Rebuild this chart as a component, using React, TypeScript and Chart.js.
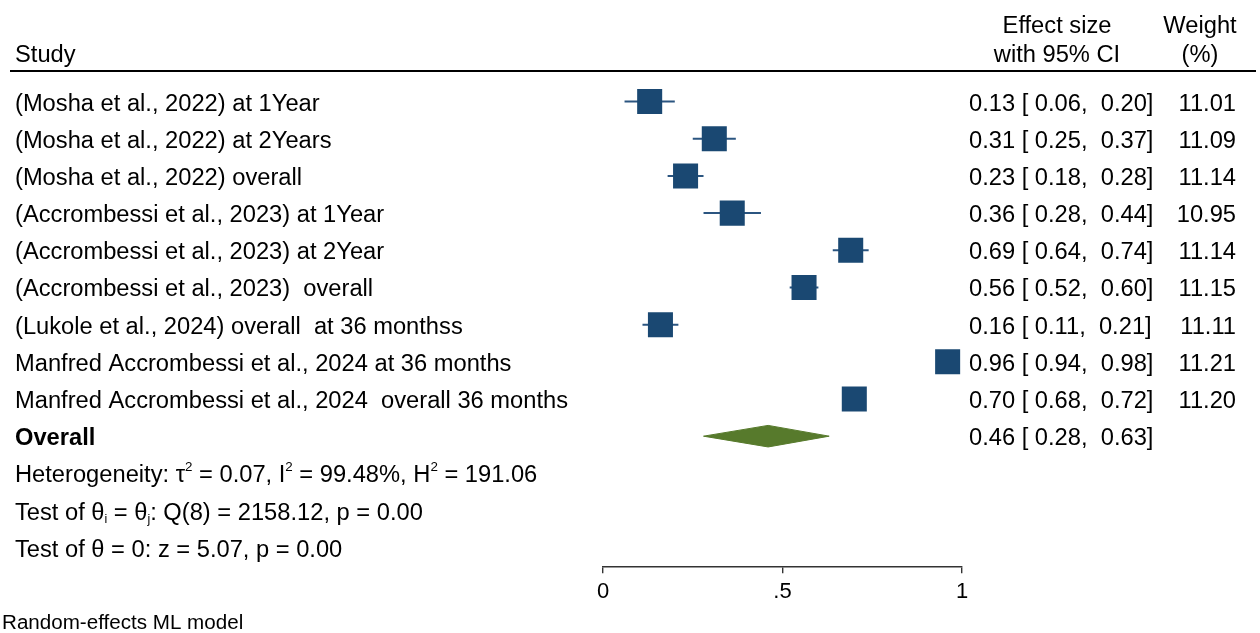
import React, { useEffect, useRef } from "react";
import { Chart, registerables } from "chart.js";

Chart.register(...registerables);

const studyLabels = [
  "(Mosha et al., 2022) at 1Year",
  "(Mosha et al., 2022) at 2Years",
  "(Mosha et al., 2022) overall",
  "(Accrombessi et al., 2023) at 1Year",
  "(Accrombessi et al., 2023) at 2Year",
  "(Accrombessi et al., 2023)  overall",
  "(Lukole et al., 2024) overall  at 36 monthss",
  "Manfred Accrombessi et al., 2024 at 36 months",
  "Manfred Accrombessi et al., 2024  overall 36 months",
];
const estimates = [0.13, 0.31, 0.23, 0.36, 0.69, 0.56, 0.16, 0.96, 0.7];
const lowerCI = [0.06, 0.25, 0.18, 0.28, 0.64, 0.52, 0.11, 0.94, 0.68];
const upperCI = [0.2, 0.37, 0.28, 0.44, 0.74, 0.6, 0.21, 0.98, 0.72];
const weights = [11.01, 11.09, 11.14, 10.95, 11.14, 11.15, 11.11, 11.21, 11.2];

const overallEstimate = 0.46;
const overallLower = 0.28;
const overallUpper = 0.63;

const xTicks = [0, 0.5, 1];
const xTickLabels = ["0", ".5", "1"];

const FONT = '"Liberation Sans", Arial, Helvetica, sans-serif';
const SIZE = 23;
const SX = 1.03;
const SQUARE = "#1a4872";
const WHISKER = "#2b5580";
const DIAMOND = "#577a2c";

function drawText(ctx: CanvasRenderingContext2D, text: string, x: number, y: number, size: number, align: string, bold = false) {
  ctx.save();
  ctx.font = `${bold ? "bold " : ""}${size}px ${FONT}`;
  const w = ctx.measureText(text).width * SX;
  let left = x;
  if (align === "right") left = x - w;
  else if (align === "center") left = x - w / 2;
  ctx.translate(left, y);
  ctx.scale(SX, 1);
  ctx.textAlign = "left";
  ctx.textBaseline = "alphabetic";
  ctx.fillStyle = "#000";
  ctx.fillText(text, 0, 0);
  ctx.restore();
  return w;
}

type Seg = { t: string; size: number; dy: number };
function drawRich(ctx: CanvasRenderingContext2D, segs: Seg[], x: number, y: number) {
  let cx = x;
  for (const s of segs) {
    cx += drawText(ctx, s.t, cx, y + s.dy, s.size, "left");
  }
}

const textPlugin = {
  id: "forestText",
  afterDraw(chart: any) {
    const ctx: CanvasRenderingContext2D = chart.ctx;
    const y = chart.scales.y;
    const off = 9;
    // header
    drawText(ctx, "Study", 15, 62, SIZE, "left");
    drawText(ctx, "Effect size", 1057, 33, SIZE, "center");
    drawText(ctx, "with 95% CI", 1057, 62, SIZE, "center");
    drawText(ctx, "Weight", 1200, 33, SIZE, "center");
    drawText(ctx, "(%)", 1200, 62, SIZE, "center");
    ctx.save();
    ctx.strokeStyle = "#000";
    ctx.lineWidth = 2;
    ctx.beginPath();
    ctx.moveTo(10, 71);
    ctx.lineTo(1256, 71);
    ctx.stroke();
    ctx.restore();

    studyLabels.forEach((lab, i) => {
      const py = y.getPixelForValue(i + 1) + off;
      drawText(ctx, lab, 15, py, SIZE, "left");
      const es = `${estimates[i].toFixed(2)} [ ${lowerCI[i].toFixed(2)},  ${upperCI[i].toFixed(2)}]`;
      drawText(ctx, es, 969, py, SIZE, "left");
      drawText(ctx, weights[i].toFixed(2), 1236, py, SIZE, "right");
    });
    const oy = y.getPixelForValue(10) + off;
    drawText(ctx, "Overall", 15, oy, SIZE, "left", true);
    drawText(
      ctx,
      `${overallEstimate.toFixed(2)} [ ${overallLower.toFixed(2)},  ${overallUpper.toFixed(2)}]`,
      969,
      oy,
      SIZE,
      "left"
    );
    const hy = y.getPixelForValue(11) + off;
    drawRich(
      ctx,
      [
        { t: "Heterogeneity: \u03c4", size: SIZE, dy: 0 },
        { t: "2", size: 13, dy: -11 },
        { t: " = 0.07, I", size: SIZE, dy: 0 },
        { t: "2", size: 13, dy: -11 },
        { t: " = 99.48%, H", size: SIZE, dy: 0 },
        { t: "2", size: 13, dy: -11 },
        { t: " = 191.06", size: SIZE, dy: 0 },
      ],
      15,
      hy
    );
    const ty = y.getPixelForValue(12) + off;
    drawRich(
      ctx,
      [
        { t: "Test of \u03b8", size: SIZE, dy: 0 },
        { t: "i", size: 12, dy: 3 },
        { t: " = \u03b8", size: SIZE, dy: 0 },
        { t: "j", size: 12, dy: 3 },
        { t: ": Q(8) = 2158.12, p = 0.00", size: SIZE, dy: 0 },
      ],
      15,
      ty
    );
    const zy = y.getPixelForValue(13) + off;
    drawText(ctx, "Test of \u03b8 = 0: z = 5.07, p = 0.00", 15, zy, SIZE, "left");
    drawText(ctx, "Random-effects ML model", 2, 629, 20, "left");
  },
};

export default function App() {
  const ref = useRef<HTMLCanvasElement | null>(null);
  useEffect(() => {
    if (!ref.current) return;
    const rows = estimates.map((_, i) => i + 1);
    const whiskers = rows.map((r, i) => ({
      type: "line" as const,
      data: [
        { x: lowerCI[i], y: r },
        { x: upperCI[i], y: r },
      ],
      borderColor: WHISKER,
      borderWidth: 2,
      pointRadius: 0,
      fill: false,
      order: 2,
    }));
    const dRow = 10;
    const dh = 0.29;
    const chart = new Chart(ref.current, {
      type: "scatter",
      data: {
        datasets: [
          {
            type: "scatter",
            data: estimates.map((e, i) => ({ x: e, y: rows[i] })),
            pointStyle: "rect",
            pointRadius: 17.7,
            pointHoverRadius: 17.7,
            backgroundColor: SQUARE,
            borderColor: SQUARE,
            borderWidth: 0,
            order: 0,
          } as any,
          ...whiskers,
          {
            type: "line",
            data: [
              { x: overallLower, y: dRow },
              { x: overallEstimate, y: dRow - dh },
              { x: overallUpper, y: dRow },
              { x: overallEstimate, y: dRow + dh },
              { x: overallLower, y: dRow },
            ],
            borderColor: DIAMOND,
            backgroundColor: DIAMOND,
            borderWidth: 1,
            pointRadius: 0,
            tension: 0,
            fill: "shape",
            order: 1,
          } as any,
        ],
      },
      options: {
        animation: false,
        responsive: false,
        events: [],
        layout: { padding: { top: 64.4, left: 603, right: 298, bottom: 0 } },
        plugins: { legend: { display: false }, tooltip: { enabled: false } },
        scales: {
          x: {
            type: "linear",
            min: 0,
            max: 1,
            afterFit: (s: any) => {
              s.height = 66.7;
            },
            afterBuildTicks: (s: any) => {
              s.ticks = xTicks.map((v) => ({ value: v }));
            },
            ticks: {
              autoSkip: false,
              maxRotation: 0,
              padding: 5,
              color: "#000",
              font: { family: FONT, size: 22 },
              callback: (v: any) => {
                const k = xTicks.indexOf(Number(v));
                return k >= 0 ? xTickLabels[k] : "";
              },
            },
            grid: { display: true, drawOnChartArea: false, drawTicks: true, tickLength: 7, color: "#333", lineWidth: 1.4 },
            border: { display: true, color: "#333", width: 1.4 },
          },
          y: { type: "linear", min: 0, max: 13.5, reverse: true, display: false },
        },
      } as any,
      plugins: [textPlugin],
    });
    return () => chart.destroy();
  }, []);
  return (
    <div style={{ position: "absolute", left: 0, top: 0, width: 1260, height: 633, background: "#fff" }}>
      <canvas ref={ref} width={1260} height={633} />
    </div>
  );
}
